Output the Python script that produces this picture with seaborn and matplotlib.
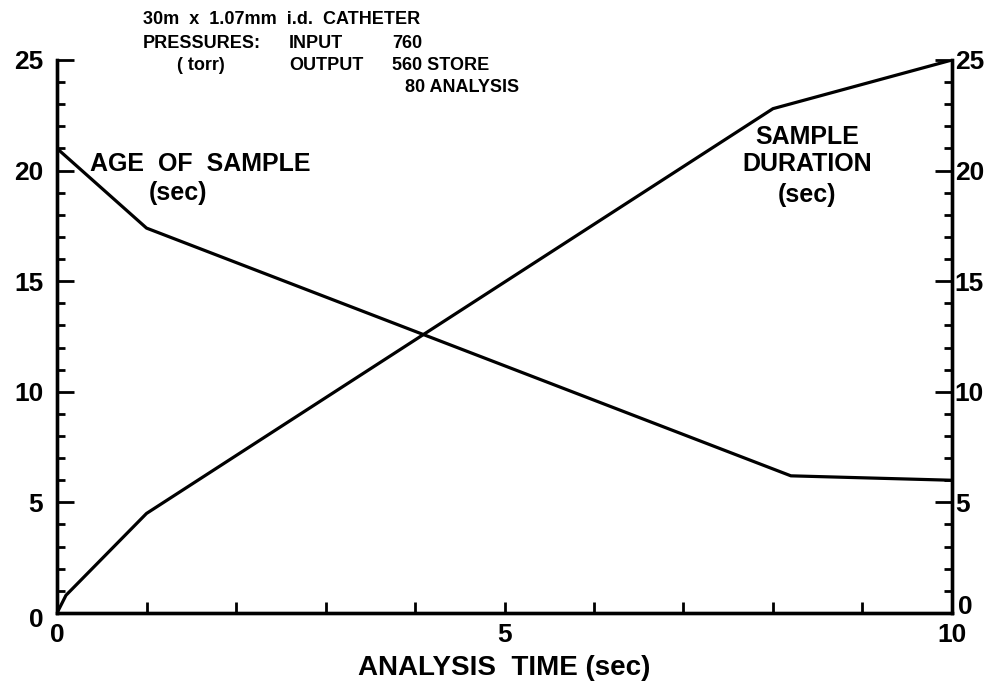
import pandas as pd
import matplotlib
matplotlib.use('Agg')
import matplotlib.pyplot as plt
import matplotlib.transforms as mtransforms
import seaborn as sns

# Data
age_time = [0, 1, 8.2, 10]
age_sec = [21.0, 17.4, 6.2, 6.0]

dur_time = [0, 0.1, 1, 8, 10]
dur_sec = [0, 0.8, 4.5, 22.8, 25]

x_ticks = [0, 5, 10]
y_ticks = [0, 5, 10, 15, 20, 25]

sns.set_style('ticks')
plt.rcParams['font.family'] = ['Liberation Sans', 'DejaVu Sans']
plt.rcParams['text.color'] = 'black'
plt.rcParams['axes.labelcolor'] = 'black'
plt.rcParams['xtick.color'] = 'black'
plt.rcParams['ytick.color'] = 'black'

age = pd.DataFrame({'time': age_time, 'value': age_sec})
dur = pd.DataFrame({'time': dur_time, 'value': dur_sec})

fig = plt.figure(figsize=(10.06, 6.81), dpi=100)
ax = fig.add_axes([0.0567, 0.0999, 0.8896, 0.812])

sns.lineplot(data=age, x='time', y='value', ax=ax, color='black', lw=2.3,
             estimator=None, sort=False)
sns.lineplot(data=dur, x='time', y='value', ax=ax, color='black', lw=2.3,
             estimator=None, sort=False)

ax.set_xlim(0, 10)
ax.set_ylim(0, 25)
ax.set_xticks(x_ticks)
ax.set_xticks(range(0, 11), minor=True)
ax.set_yticks(y_ticks)
ax.set_yticks(range(0, 26), minor=True)
ax.set_xticklabels([str(t) for t in x_ticks])
ax.set_yticklabels([str(t) for t in y_ticks])

# right-hand scale (same values)
ax2 = ax.twinx()
ax2.set_ylim(0, 25)
ax2.set_yticks(y_ticks)
ax2.set_yticks(range(0, 26), minor=True)
ax2.set_yticklabels([str(t) for t in y_ticks])

for a in (ax, ax2):
    a.spines['top'].set_visible(False)
    for s in ['left', 'right', 'bottom']:
        a.spines[s].set_linewidth(2.4)
        a.spines[s].set_color('black')

ax.tick_params(axis='y', which='both', direction='in', left=True, right=False,
               width=2, labelsize=19, pad=10)
ax.tick_params(axis='y', which='major', length=12)
ax.tick_params(axis='y', which='minor', length=6)
ax2.tick_params(axis='y', which='both', direction='in', width=2,
                labelsize=19, pad=2)
ax2.tick_params(axis='y', which='major', length=12)
ax2.tick_params(axis='y', which='minor', length=6)
ax.tick_params(axis='x', which='both', direction='in', length=8, width=2,
               labelsize=19, pad=7)
for lab in ax.get_xticklabels() + ax.get_yticklabels() + ax2.get_yticklabels():
    lab.set_fontweight('bold')

# nudge the corner zeros as drawn in the original
ax2.get_yticklabels()[0].set_transform(
    ax2.get_yticklabels()[0].get_transform()
    + mtransforms.ScaledTranslation(0.03, 0.08, fig.dpi_scale_trans))
ax.get_yticklabels()[0].set_transform(
    ax.get_yticklabels()[0].get_transform()
    + mtransforms.ScaledTranslation(0, -0.05, fig.dpi_scale_trans))

ax.set_xlabel('ANALYSIS  TIME (sec)', fontsize=20, fontweight='bold', labelpad=6)
ax.set_ylabel('')

# curve labels
ax.text(0.37, 20.3, 'AGE  OF  SAMPLE', fontsize=18, fontweight='bold', va='center')
ax.text(1.35, 19.0, '(sec)', fontsize=18, fontweight='bold', va='center', ha='center')
ax.text(8.38, 21.5, 'SAMPLE', fontsize=18, fontweight='bold', va='center', ha='center')
ax.text(8.38, 20.3, 'DURATION', fontsize=18, fontweight='bold', va='center', ha='center')
ax.text(8.38, 18.9, '(sec)', fontsize=18, fontweight='bold', va='center', ha='center')

# header notes
kw = dict(fontsize=13, fontweight='bold', va='center')
fig.text(143 / 1006, 1 - 20 / 681, '30m  x  1.07mm  i.d.  CATHETER', **kw)
fig.text(143 / 1006, 1 - 43 / 681, 'PRESSURES:', **kw)
fig.text(177 / 1006, 1 - 66 / 681, '( torr)', **kw)
fig.text(289 / 1006, 1 - 43 / 681, 'INPUT', **kw)
fig.text(289 / 1006, 1 - 66 / 681, 'OUTPUT', **kw)
fig.text(392 / 1006, 1 - 43 / 681, '760', **kw)
fig.text(392 / 1006, 1 - 66 / 681, '560 STORE', **kw)
fig.text(405 / 1006, 1 - 88 / 681, '80 ANALYSIS', **kw)

fig.savefig('out.png', dpi=100)
